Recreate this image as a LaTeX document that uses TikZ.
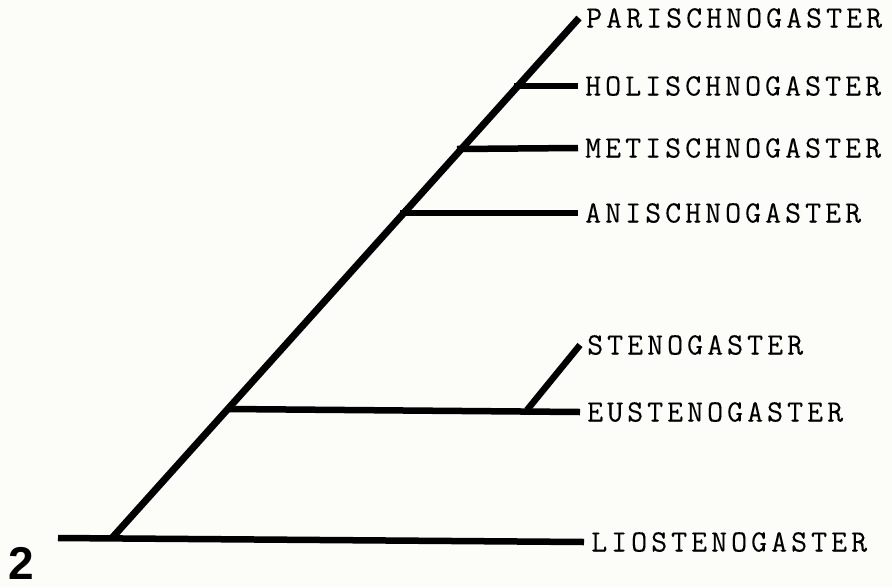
\documentclass[tikz,border=0pt]{standalone}
\usepackage{fontspec}
\setmonofont{Latin Modern Mono}[LetterSpace=13, FakeBold=0.1]
\setsansfont{Liberation Sans}
\usetikzlibrary{positioning}
\definecolor{paper}{RGB}{252,252,248}

\begin{document}
\begin{tikzpicture}[
      x=1pt, y=-1pt,
      branch/.style={line width=6.5pt},
      taxon/.style={anchor=west, inner xsep=7pt, inner ysep=0pt,
                    font=\fontsize{31}{35}\selectfont\ttfamily},
      fignum/.style={font=\fontsize{46}{50}\selectfont\sffamily\bfseries, inner sep=0pt}
    ]
    \fill[paper] (0,0) rectangle (892,587);

    % taxa
    \node[taxon] (paris)  at (579,18)  {PARISCHNOGASTER};
    \node[taxon] (holis)  at (578,86)  {HOLISCHNOGASTER};
    \node[taxon] (metis)  at (578,148) {METISCHNOGASTER};
    \node[taxon] (anis)   at (578,213) {ANISCHNOGASTER};
    \node[taxon] (steno)  at (580,345) {STENOGASTER};
    \node[taxon] (eusten) at (580,412) {EUSTENOGASTER};
    \node[taxon] (liost)  at (584,542) {LIOSTENOGASTER};
    \node[fignum] (num) at (21,563) {2};

    % branch points
    \coordinate (root) at (58,538);
    \coordinate (n1) at (112,538);
    \coordinate (n2) at (228,409);
    \coordinate (n3) at (400,213);
    \coordinate (n4) at (457,149);
    \coordinate (n5) at (514,86);
    \coordinate (n6) at (527,410);

    \draw[branch] (root) -- (liost.west);
    \draw[branch, line width=7pt] (n1) -- (paris.west);
    \draw[branch] (n2) -- (eusten.west);
    \draw[branch] (n6) -- (steno.west);
    \draw[branch] (n3) -- (anis.west);
    \draw[branch] (n4) -- (metis.west);
    \draw[branch] (n5) -- (holis.west);
  \end{tikzpicture}
\end{document}
